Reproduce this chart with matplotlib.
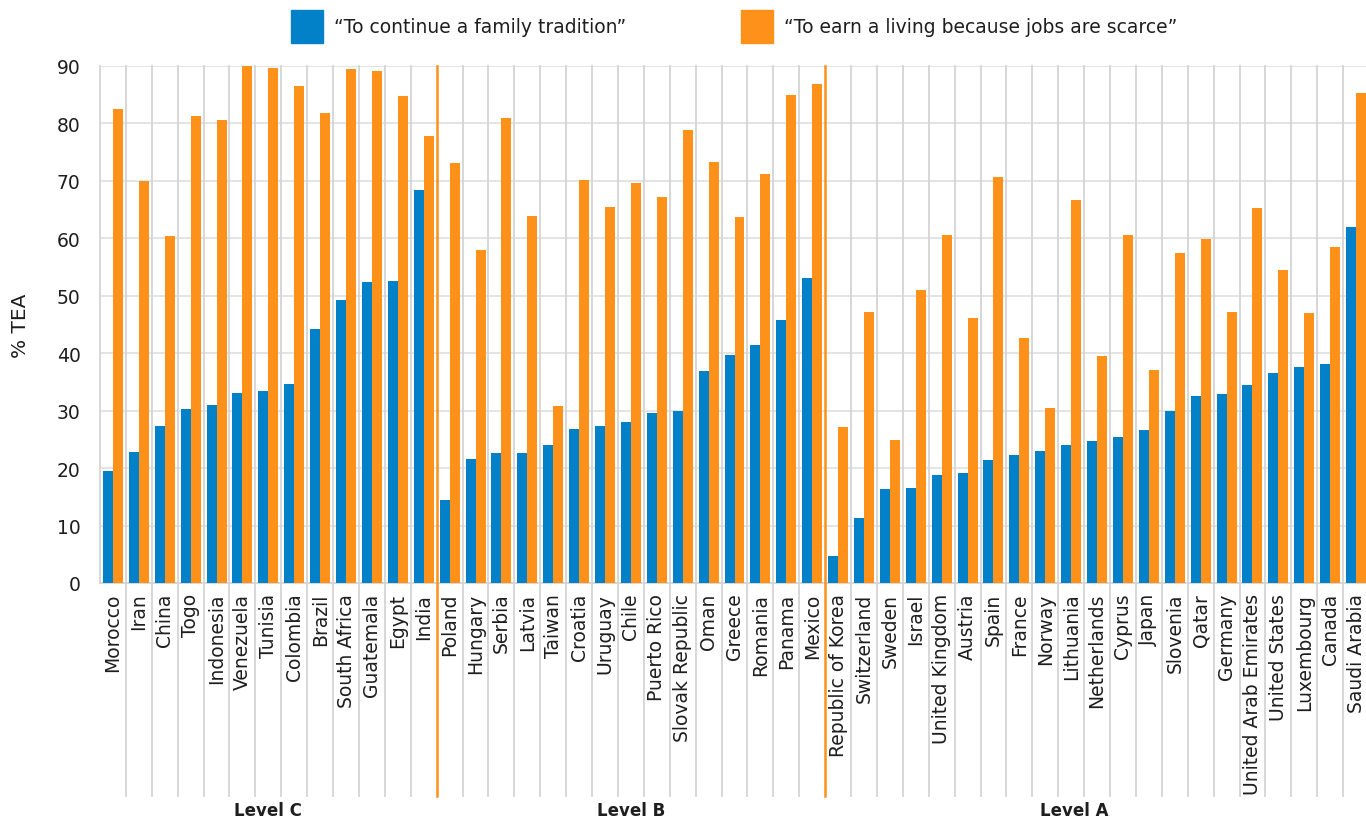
import numpy as np
import matplotlib
matplotlib.use("Agg")
import matplotlib.pyplot as plt
from matplotlib.patches import Patch

# Données (% TEA)
level_c = ['Morocco', 'Iran', 'China', 'Togo', 'Indonesia', 'Venezuela', 'Tunisia',
           'Colombia', 'Brazil', 'South Africa', 'Guatemala', 'Egypt', 'India']
family_c = [19.5, 22.8, 27.3, 30.3, 31.0, 33.1, 33.4, 34.6, 44.2, 49.3, 52.4, 52.6, 68.5]
jobs_c = [82.5, 70.0, 60.4, 81.3, 80.6, 90.0, 89.6, 86.6, 81.9, 89.4, 89.1, 84.7, 77.9]

level_b = ['Poland', 'Hungary', 'Serbia', 'Latvia', 'Taiwan', 'Croatia', 'Uruguay', 'Chile',
           'Puerto Rico', 'Slovak Republic', 'Oman', 'Greece', 'Romania', 'Panama', 'Mexico']
family_b = [14.5, 21.6, 22.6, 22.6, 24.0, 26.8, 27.3, 28.0, 29.6, 29.9, 36.9, 39.7, 41.4, 45.8, 53.1]
jobs_b = [73.1, 57.9, 81.0, 63.9, 30.8, 70.1, 65.4, 69.6, 67.2, 78.8, 73.3, 63.7, 71.2, 84.9, 86.8]

level_a = ['Republic of Korea', 'Switzerland', 'Sweden', 'Israel', 'United Kingdom', 'Austria',
           'Spain', 'France', 'Norway', 'Lithuania', 'Netherlands', 'Cyprus', 'Japan', 'Slovenia',
           'Qatar', 'Germany', 'United Arab Emirates', 'United States', 'Luxembourg', 'Canada',
           'Saudi Arabia']
family_a = [4.7, 11.3, 16.4, 16.6, 18.8, 19.2, 21.4, 22.3, 23.0, 24.0, 24.7, 25.4, 26.6, 29.9,
            32.6, 32.9, 34.5, 36.6, 37.6, 38.1, 62.0]
jobs_a = [27.2, 47.2, 24.9, 51.0, 60.6, 46.1, 70.7, 42.6, 30.5, 66.6, 39.5, 60.6, 37.1, 57.4,
          59.9, 47.2, 65.3, 54.5, 47.0, 58.5, 85.3]

group_names = ['Level C', 'Level B', 'Level A']
series_labels = ['\u201cTo continue a family tradition\u201d',
                 '\u201cTo earn a living because jobs are scarce\u201d']

blue = '#0281C8'
orange = '#FD9119'
grid_col = '#d4d4d4'
text_col = '#1e1e1e'

plt.rcParams['font.family'] = ['DejaVu Sans']

countries = level_c + level_b + level_a
family = family_c + family_b + family_a
jobs = jobs_c + jobs_b + jobs_a
x = np.arange(len(countries))
sizes = [len(level_c), len(level_b), len(level_a)]

W, H = 1366, 820
fig = plt.figure(figsize=(W / 100, H / 100), dpi=100)
# axe : de x=100 à x=1369 px (le dernier pays est légèrement coupé), de y=67 à y=584 px
ax = fig.add_axes([100 / W, 1 - 584 / H, 1269 / W, 517 / H])

bw = 0.386
ax.bar(x - bw / 2, family, width=bw, color=blue, zorder=3)
ax.bar(x + bw / 2, jobs, width=bw, color=orange, zorder=3)

ax.set_xlim(-0.5, len(countries) - 0.5)
ax.set_ylim(0, 90)
ax.set_yticks(range(0, 91, 10))
ax.yaxis.grid(True, color='#e2e2e2', linewidth=1.3, zorder=0)
ax.set_axisbelow(True)

for s in ['top', 'right']:
    ax.spines[s].set_visible(False)
for s in ['left', 'bottom']:
    ax.spines[s].set_color(grid_col)
    ax.spines[s].set_linewidth(1.3)

# lignes verticales entre pays, prolongées sous les étiquettes
y_low = (584 - 797) / 517
bounds = np.cumsum(sizes)[:-1] - 0.5
for b in x[:-1] + 0.5:
    if b in bounds:
        continue
    ax.axvline(b, ymin=y_low, ymax=1, color=grid_col, linewidth=1.3, clip_on=False, zorder=1)
for b in bounds:
    ax.axvline(b, ymin=y_low, ymax=1, color=orange, linewidth=1.8, clip_on=False, zorder=4)

ax.set_xticks(x)
ax.set_xticklabels(countries, rotation=90, fontsize=13.5, color=text_col)
ax.tick_params(axis='x', length=0, pad=7)
ax.tick_params(axis='y', length=0, pad=14, labelsize=13.5, labelcolor=text_col)

ax.set_ylabel('% TEA', fontsize=14.5, color=text_col)
ax.yaxis.set_label_coords(-0.055, 0.5)

# étiquettes des groupes
starts = np.concatenate([[0], np.cumsum(sizes)[:-1]])
centers = [(s + s + n - 1) / 2 for s, n in zip(starts, sizes)]
centers[-1] = 37.1  # partie visible du groupe A
for c, name in zip(centers, group_names):
    ax.text(c, (584 - 811) / 517, name, transform=ax.get_xaxis_transform(),
            ha='center', va='center', fontsize=12, fontweight='bold', color=text_col)

# légende (deux entrées placées séparément)
for col, lab, xpos in [(blue, series_labels[0], 291), (orange, series_labels[1], 741)]:
    fig.legend(handles=[Patch(color=col)], labels=[lab], loc='upper left',
               bbox_to_anchor=(xpos / W, 1 - 11 / H), frameon=False, borderpad=0,
               borderaxespad=0, fontsize=13.5, handlelength=1.7, handleheight=2.3,
               handletextpad=0.6, labelcolor=text_col)

fig.savefig('out.png', dpi=100)
